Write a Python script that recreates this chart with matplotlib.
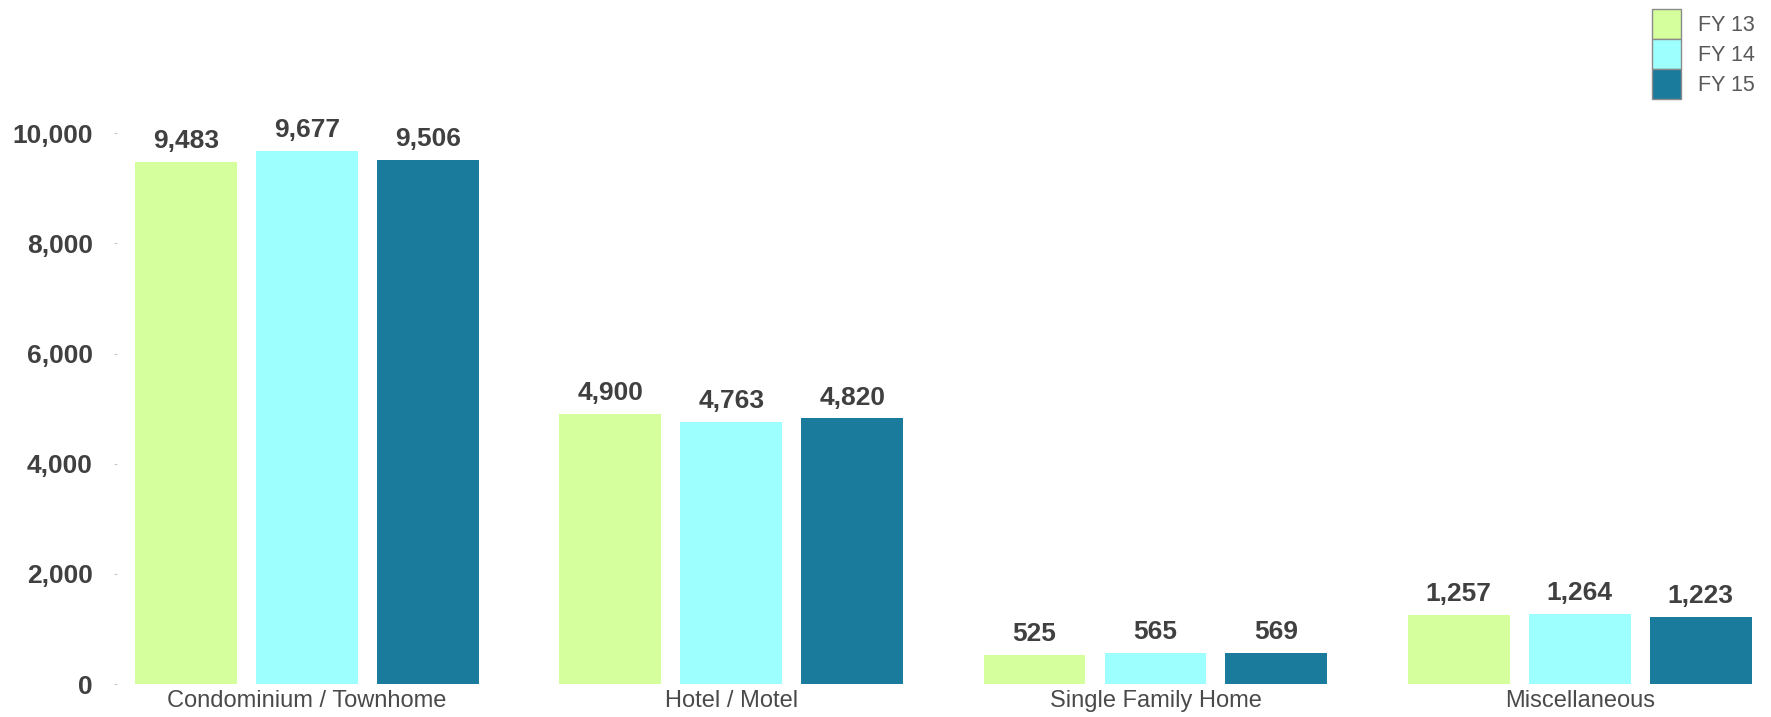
import numpy as np
import matplotlib.pyplot as plt
from matplotlib.patches import Patch

categories = ['Condominium / Townhome', 'Hotel / Motel', 'Single Family Home', 'Miscellaneous']
series_names = ['FY 13', 'FY 14', 'FY 15']
fy13 = [9483, 4900, 525, 1257]
fy14 = [9677, 4763, 565, 1264]
fy15 = [9506, 4820, 569, 1223]
colors = ['#D4FF9C', '#9EFFFF', '#1B7B9C']
y_ticks = [0, 2000, 4000, 6000, 8000, 10000]

text_color = '#404040'
plt.rcParams['font.family'] = ['Liberation Sans', 'DejaVu Sans']

W, H = 1771, 717
fig = plt.figure(figsize=(W / 100, H / 100), dpi=100)
# axes placed in pixel terms: left 117, right 1760, baseline 684, top 23
ax = fig.add_axes([117 / W, (H - 684) / H, (1760 - 117) / W, (684 - 23) / H])

x = np.arange(len(categories))
step = 0.285
width = 0.240
for i, (vals, name) in enumerate(zip([fy13, fy14, fy15], series_names)):
    pos = x + (i - 1) * step
    bars = ax.bar(pos, vals, width, color=colors[i], label=name)
    for b, v in zip(bars, vals):
        ax.annotate(f'{v:,}', (b.get_x() + b.get_width() / 2, v), xytext=(0, 10),
                    textcoords='offset points', ha='center', va='baseline',
                    fontsize=19, fontweight='bold', color=text_color)

ax.set_xlim(-0.448, 3.425)
ax.set_ylim(0, 12000)
ax.set_yticks(y_ticks)
ax.set_yticklabels([f'{t:,}' for t in y_ticks], fontsize=19, fontweight='bold', color=text_color)
ax.set_xticks(x)
ax.set_xticklabels(categories, fontsize=17, color='#4a4a4a')
ax.tick_params(axis='x', length=0, pad=4.5)
ax.tick_params(axis='y', length=2.5, width=0.8, color='#c8c8c8', pad=15)
for s in ax.spines.values():
    s.set_visible(False)

# legend patches with grey outline, stacked with no gap
handles = [Patch(facecolor=c, edgecolor='#8a8a8a', linewidth=1.0, label=n)
           for c, n in zip(colors, series_names)]
leg = fig.legend(handles=handles, loc='upper left', bbox_to_anchor=(1652 / W, 1 - 9 / H),
                 frameon=False, fontsize=15.5, handlelength=1.35, handleheight=1.77,
                 labelspacing=0.0, borderpad=0, handletextpad=0.8, borderaxespad=0)
for t in leg.get_texts():
    t.set_color('#595959')

fig.savefig('out.png', dpi=100)
